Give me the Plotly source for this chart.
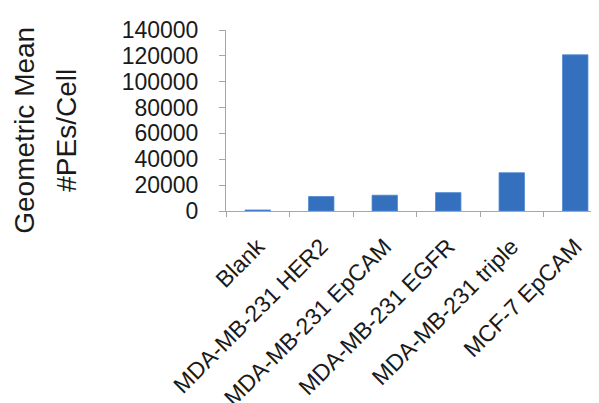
import plotly.graph_objects as go

categories = ["Blank", "MDA-MB-231 HER2", "MDA-MB-231 EpCAM", "MDA-MB-231 EGFR",
              "MDA-MB-231 triple", "MCF-7 EpCAM"]
values = [800, 11200, 12200, 14200, 29600, 120800]
y_ticks = [0, 20000, 40000, 60000, 80000, 100000, 120000, 140000]
title_lines = ["Geometric Mean", "#PEs/Cell"]

FONT = "Liberation Sans, Arial, sans-serif"
AX = "#a6a6a6"

fig = go.Figure(go.Bar(
    x=categories, y=values,
    marker=dict(color="#3570bf", line=dict(color="#4a86d2", width=0.8)),
    width=0.4,
))

fig.update_layout(
    width=599, height=403,
    margin=dict(l=218, r=0, t=22, b=196),
    paper_bgcolor="white", plot_bgcolor="white",
    showlegend=False,
    font=dict(family=FONT, color="#1a1a1a"),
)
fig.update_xaxes(
    showline=True, linecolor=AX, linewidth=1,
    ticks="outside", tickson="boundaries", ticklen=5, tickcolor=AX,
    tickangle=-45, tickfont=dict(size=23, family=FONT, color="#1a1a1a"),
    ticklabelstandoff=12, showgrid=False, zeroline=False,
)
fig.update_yaxes(
    range=[0, 140000], tickvals=y_ticks, ticktext=[str(v) for v in y_ticks],
    showline=True, linecolor=AX, linewidth=1,
    ticks="outside", ticklen=6, tickcolor=AX,
    tickfont=dict(size=23, family=FONT, color="#1a1a1a"),
    ticklabelstandoff=16, showgrid=False, zeroline=False,
)

for i, (txt, px) in enumerate(zip(title_lines, [17, 59])):
    fig.add_annotation(
        text=txt, xref="paper", yref="paper", x=0, y=(207 - 125) / 185,
        xanchor="center", yanchor="middle", xshift=px - 218,
        textangle=-90, showarrow=False,
        font=dict(size=28, family=FONT, color="#1a1a1a"),
    )

fig.write_html("out.html")
